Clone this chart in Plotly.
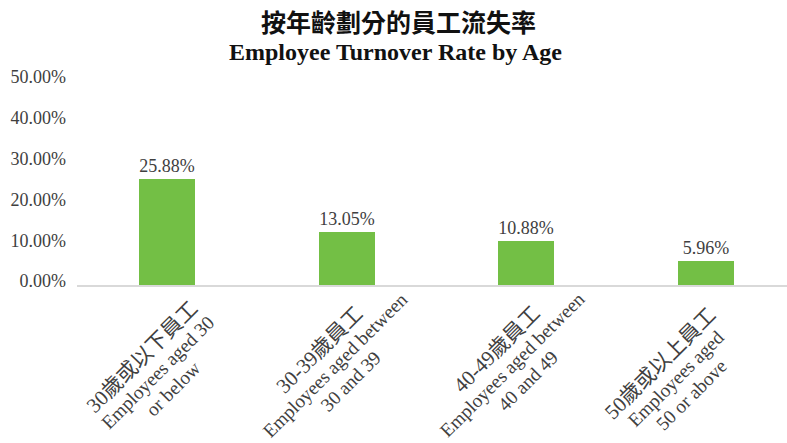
import plotly.graph_objects as go

# ---- data ----
categories_zh = ["30歲或以下員工", "30-39歲員工", "40-49歲員工", "50歲或以上員工"]
categories_en_1 = ["Employees aged 30", "Employees aged between",
                   "Employees aged between", "Employees aged"]
categories_en_2 = ["or below", "30 and 39", "40 and 49", "50 or above"]
turnover_rate = [0.2588, 0.1305, 0.1088, 0.0596]
y_ticks = [0.0, 0.1, 0.2, 0.3, 0.4, 0.5]
title_zh = "按年齡劃分的員工流失率"
title_en = "Employee Turnover Rate by Age"

# ---- style ----
SERIF = "Liberation Serif, Times New Roman, Noto Sans CJK TC, serif"
TXT = "#404040"
BAR = "#73BF45"
label_dx = [-9, -11.5, -13.5, -29.5]   # pixel nudges of each rotated label block
label_dy = [1, -6, -7, 7]              # (down positive)
LINE_STEP = 15.5                       # per-line offset along the rotated direction

x_idx = list(range(len(categories_zh)))

fig = go.Figure()
fig.add_trace(go.Bar(
    x=x_idx,
    y=turnover_rate,
    width=0.312,
    marker=dict(color=BAR, line=dict(width=0)),
    text=[f"{v*100:.2f}%" for v in turnover_rate],
    textposition="outside",
    textfont=dict(family=SERIF, size=18, color=TXT),
    cliponaxis=False,
    hoverinfo="skip",
))

annotations = []
for i in x_idx:
    lines = [(categories_zh[i], 21), (categories_en_1[i], 19.2), (categories_en_2[i], 19.2)]
    for k, (txt, fs) in enumerate(lines):
        off = (k - 1) * LINE_STEP
        annotations.append(dict(
            x=i, xref="x", y=-0.42647, yref="paper",
            text=txt, showarrow=False, textangle=-45,
            xanchor="center", yanchor="middle",
            xshift=label_dx[i] + off,
            yshift=-(label_dy[i] + off),
            font=dict(family=SERIF, size=fs, color=TXT),
        ))

annotations.append(dict(
    x=0.4535, xref="paper", y=1.294, yref="paper",
    text=f"<b>{title_zh}</b>", showarrow=False,
    xanchor="center", yanchor="middle",
    font=dict(family="Noto Sans CJK TC, Noto Sans CJK SC, sans-serif", size=25, color="#111111"),
))
annotations.append(dict(
    x=0.449, xref="paper", y=1.142, yref="paper",
    text=f"<b>{title_en}</b>", showarrow=False,
    xanchor="center", yanchor="middle",
    font=dict(family=SERIF, size=24, color="#111111"),
))

fig.update_layout(
    width=787, height=443,
    margin=dict(l=77, r=0, t=81, b=158, pad=0),
    paper_bgcolor="white", plot_bgcolor="white",
    showlegend=False,
    bargap=0,
    annotations=annotations,
    xaxis=dict(
        range=[-0.5, 3.451],
        showticklabels=False,
        showgrid=False, zeroline=False,
        showline=True, linecolor="#D9D9D9", linewidth=1.5,
        ticks="", fixedrange=True,
    ),
    yaxis=dict(
        range=[0, 0.5],
        tickvals=y_ticks,
        tickformat=".2%",
        tickfont=dict(family=SERIF, size=18, color=TXT),
        showgrid=False, zeroline=False, showline=False,
        ticks="", ticklabelstandoff=10, ticklabelshift=-4,
        fixedrange=True,
    ),
)

fig.write_html(
    "out.html",
    config={"displayModeBar": False},
    post_script="document.body.style.margin='0';document.body.style.overflow='hidden';",
)
